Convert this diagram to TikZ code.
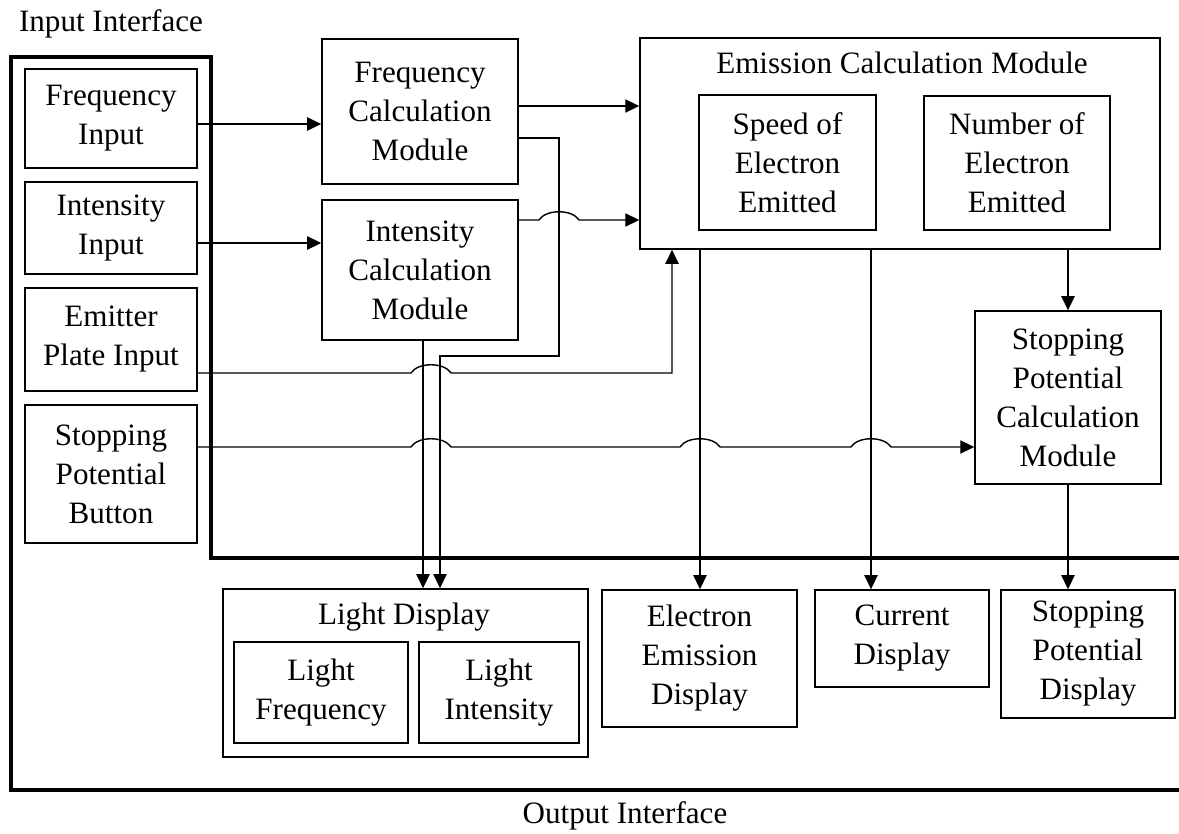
\documentclass[tikz,border=0pt]{standalone}
\usepackage{fontspec}
\setmainfont{Liberation Serif}
\usetikzlibrary{arrows.meta}
\newcommand{\hop}[2]{-- (#1-20,#2) .. controls (#1-13,#2-11) and (#1+13,#2-11) .. (#1+20,#2)}
\tikzset{
  box/.style={draw,line width=0.8pt,align=center,inner sep=0pt},
  sz/.style n args={2}{minimum width=#1*0.02cm,minimum height=#2*0.02cm},
  arr/.style={line width=0.8pt,-{Triangle[length=8pt,width=7.5pt]}},
  frame/.style={line width=2.8pt,line join=miter}
}

\begin{document}
\begin{tikzpicture}[x=0.02cm,y=-0.02cm,
  every node/.style={font=\fontsize{17.7}{22.2}\selectfont}]
  \useasboundingbox (0,0) rectangle (1179,834);

  \draw[frame] (1179,558) -- (211,558) -- (211,57) -- (11,57) -- (11,790) -- (1179,790);
  \node (inlbl) at (111,24) {Input Interface};
  \node (outlbl) at (625,816) {Output Interface};

  \begin{scope}[every node/.append style={box}]
    \node[sz={172}{99}] (fin) at (111,118.5) {Frequency\\Input};
    \node[sz={172}{92}] (iin) at (111,228) {Intensity\\Input};
    \node[sz={172}{103}] (ein) at (111,339.5) {Emitter\\Plate Input};
    \node[sz={172}{138}] (sin) at (111,474) {Stopping\\Potential\\Button};

    \node[sz={196}{145}] (fcm) at (420,111.5) {Frequency\\Calculation\\Module};
    \node[sz={196}{140}] (icm) at (420,270) {Intensity\\Calculation\\Module};

    \node[sz={520}{211}] (ecm) at (900,143.5) {};
    \node[sz={177}{135}] (speed) at (787.5,162.5) {Speed of\\Electron\\Emitted};
    \node[sz={186}{134}] (num) at (1017,163) {Number of\\Electron\\Emitted};
    \node[sz={186}{173}] (spcm) at (1068,397.5) {Stopping\\Potential\\Calculation\\Module};

    \node[sz={365}{168}] (ld) at (405.5,673) {};
    \node[sz={174}{101}] (lf) at (321,692.5) {Light\\Frequency};
    \node[sz={160}{101}] (li) at (499,692.5) {Light\\Intensity};
    \node[sz={195}{137}] (eed) at (699.5,658.5) {Electron\\Emission\\Display};
    \node[sz={174}{97}] (cd) at (902,638.5) {Current\\Display};
    \node[sz={174}{128}] (spd) at (1088,654) {Stopping\\Potential\\Display};
  \end{scope}
  \node (ecmt) at (902,63) {Emission Calculation Module};
  \node (ldt) at (404,617) {Light Display};

  \draw[arr] (fin.east |- 0,124) -- (fcm.west |- 0,124);
  \draw[arr] (iin.east |- 0,243) -- (icm.west |- 0,243);
  \draw[arr] (fcm.east |- 0,106) -- (ecm.west |- 0,106);
  \draw[arr] (fcm.east |- 0,138) -- (559,138) -- (559,356) -- (440,356) -- (ld.north -| 440,0);
  \draw[arr] (icm.east |- 0,220) \hop{559}{220} -- (ecm.west |- 0,220);
  \draw[arr] (icm.south -| 423,0) -- (ld.north -| 423,0);
  \draw[arr] (ein.east |- 0,373) \hop{431}{373} -- (672,373) -- (ecm.south -| 672,0);
  \draw[arr] (sin.east |- 0,447) \hop{431}{447} \hop{700}{447} \hop{871}{447} -- (spcm.west |- 0,447);
  \draw[arr] (ecm.south -| 700,0) -- (eed.north -| 700,0);
  \draw[arr] (ecm.south -| 871,0) -- (cd.north -| 871,0);
  \draw[arr] (ecm.south -| spcm.north) -- (spcm.north);
  \draw[arr] (spcm.south) -- (spd.north -| spcm.south);
\end{tikzpicture}
\end{document}
